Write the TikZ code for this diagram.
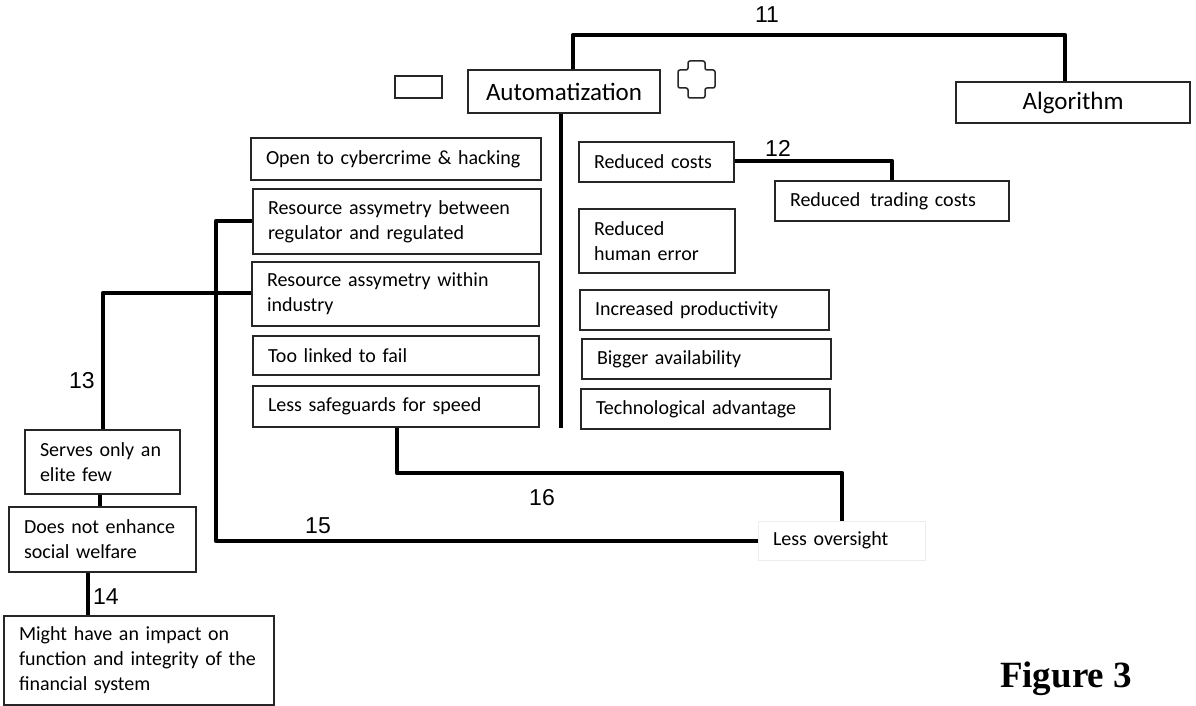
\documentclass[tikz,border=0pt]{standalone}
\usepackage{fontspec}
\setmainfont{Carlito}
\newfontfamily\numfont{Liberation Sans}
\newfontfamily\figfont{Liberation Serif}
\begin{document}
\begin{tikzpicture}[x=1pt,y=-1pt,
  box/.style={draw=black!85,line width=1.6pt,inner xsep=15pt,inner ysep=0pt,align=left,
    font=\fontsize{20}{25}\selectfont},
  conn/.style={line width=4.5pt,line join=round},
  num/.style={font=\numfont\fontsize{23}{23}\selectfont}]
\useasboundingbox (0,0) rectangle (1196,706);
\fill[white] (0,0) rectangle (1196,706);

\newcommand{\bx}[6]{% name, x1, y1, x2, y2, text
  \node[box,text width={#4-#2-30},minimum height={#5-#3}] (#1) at ({(#2+#4)/2},{(#3+#5)/2}) {#6};}

% top
\node[draw=black!85,line width=1.6pt,minimum width=47pt,minimum height=22pt,inner sep=0pt] (empty) at (418.5,87) {};
\node[draw=black!85,line width=1.6pt,minimum width=192pt,minimum height=43pt,inner sep=0pt,font=\fontsize{25}{28}\selectfont] (auto) at (564,91.5) {Automatization};
\node[draw=black!85,line width=1.6pt,minimum width=234pt,minimum height=41pt,inner sep=0pt,font=\fontsize{25}{28}\selectfont] (algo) at (1073,102.5) {Algorithm};
\draw[black!85,line width=1.5pt,rounded corners=2pt]
  (688,61) -- (705,61) -- (705,70) -- (715,70) -- (715,88) -- (705,88) -- (705,98)
  -- (688,98) -- (688,88) -- (678,88) -- (678,70) -- (688,70) -- cycle;

% left column
\bx{cyber}{251}{138}{541}{180}{Open to cybercrime \& hacking}
\bx{rab}{253}{189}{541}{254}{Resource assymetry between\\regulator and regulated}
\bx{rai}{252}{262}{539}{326}{Resource assymetry within\\industry}
\bx{tlf}{253}{336}{539}{375}{Too linked to fail}
\bx{lsf}{253}{386}{539}{427}{Less safeguards for speed}

% right column
\bx{rc}{579}{142}{734}{182}{Reduced costs}
\bx{rtc}{775}{181}{1009}{221}{Reduced\, trading costs}
\bx{rhe}{579}{209}{735}{273}{Reduced\\human error}
\bx{ip}{580}{290}{829}{330}{Increased productivity}
\bx{ba}{582}{339}{831}{379}{Bigger availability}
\bx{ta}{581}{389}{830}{429}{Technological advantage}

% bottom left
\bx{elite}{25}{430}{180}{494}{Serves only an\\elite few}
\bx{dne}{9}{507}{196}{572}{Does not enhance\\social welfare}
\bx{impact}{4}{616}{274}{705}{Might have an impact on\\function and integrity of the\\financial system}

% less oversight
\node[box,draw=black!7,line width=1pt,text width=137pt,minimum height=39pt] (lo) at (841.5,540.5) {Less oversight};

% connectors
\draw[conn] (auto.north -| 573,0) -- (573,35) -- (1065,35) -- (algo.north -| 1065,0);
\coordinate (spine) at (561,428);
\draw[conn] (auto.south -| 561,0) -- (spine);
\draw[conn] (rc.east |- 0,161) -- (892,161) -- (rtc.north -| 892,0);
\draw[conn] (rab.west |- 0,221) -- (216,221) -- (216,541) -- (lo.west |- 0,541);
\draw[conn] (rai.west |- 0,293) -- (103,293) -- (elite.north -| 103,0);
\draw[conn] (elite.south -| 100,0) -- (dne.north -| 100,0);
\draw[conn] (dne.south -| 88,0) -- (impact.north -| 88,0);
\draw[conn] (lsf.south -| 397,0) -- (397,473) -- (842,473) -- (lo.north -| 842,0);

% labels
\node[num] (n11) at (767,15) {11};
\node[num] (n12) at (778,148) {12};
\node[num] (n13) at (82,381) {13};
\node[num] (n14) at (106,597) {14};
\node[num] (n15) at (318,526) {15};
\node[num] (n16) at (542,498) {16};
\node[font=\figfont\bfseries\fontsize{37}{37}\selectfont] (fig) at (1066,679) {Figure 3};
\end{tikzpicture}
\end{document}
